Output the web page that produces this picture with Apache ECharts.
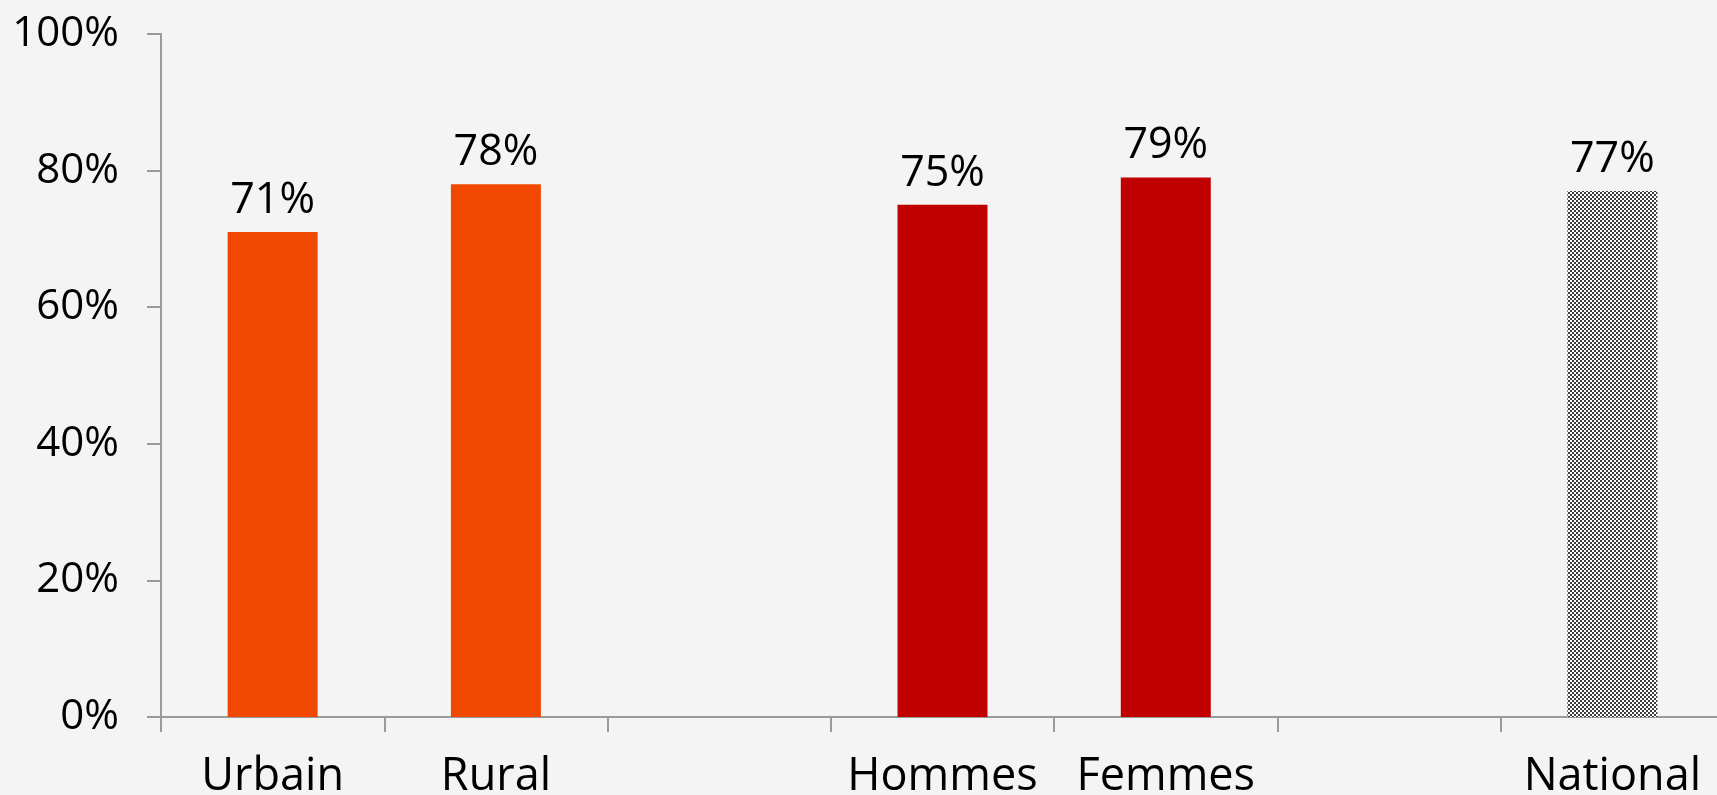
<!DOCTYPE html>
<html>
<head>
<meta charset="utf-8">
<script src="https://cdn.jsdelivr.net/npm/echarts@6/dist/echarts.min.js"></script>
<style>
  html, body { margin: 0; padding: 0; background: #f4f4f4; }
  #chart { width: 1717px; height: 795px; }
</style>
</head>
<body>
<div id="chart"></div>
<script>
var categories = ['Urbain', 'Rural', '', 'Hommes', 'Femmes', '', 'National'];
var values = [71, 78, null, 75, 79, null, 77];
var barColors = ['#f04800', '#f04800', null, '#c00000', '#c00000', null, 'pattern'];
var yTicks = [0, 20, 40, 60, 80, 100];

// petit damier noir / blanc pour la barre "National"
function checkerPattern() {
	var c = document.createElement('canvas');
	c.width = 4;
	c.height = 4;
	var ctx = c.getContext('2d');
	ctx.fillStyle = '#ffffff';
	ctx.fillRect(0, 0, 4, 4);
	ctx.fillStyle = '#3c3c3c';
	ctx.fillRect(0, 0, 2, 2);
	ctx.fillRect(2, 2, 2, 2);
	return c;
}

var pattern = checkerPattern();
var font = "'Open Sans', 'DejaVu Sans', sans-serif";

var seriesData = values.map(function (v, i) {
	var col = barColors[i] === 'pattern' ? { image: pattern, repeat: 'repeat' } : barColors[i];
	return { value: v, itemStyle: { color: col } };
});

var chart = echarts.init(document.getElementById('chart'));
var option = {
	backgroundColor: '#f4f4f4',
	animation: false,
	// la grille deborde un peu a droite de la fenetre
	grid: { left: 161, width: 1563, top: 34, bottom: 78, containLabel: false, outerBoundsMode: 'none' },
	xAxis: {
		type: 'category',
		data: categories,
		axisLine: { lineStyle: { color: '#9a9a9a', width: 2 } },
		axisTick: { show: true, interval: 0, length: 15, lineStyle: { color: '#9a9a9a', width: 2 } },
		axisLabel: {
			interval: 0,
			margin: 38,
			color: '#000',
			fontFamily: font,
			fontSize: 45
		}
	},
	yAxis: {
		type: 'value',
		min: yTicks[0],
		max: yTicks[yTicks.length - 1],
		interval: 20,
		splitLine: { show: false },
		axisLine: { show: true, lineStyle: { color: '#9a9a9a', width: 2 } },
		axisTick: { show: true, length: 14, lineStyle: { color: '#9a9a9a', width: 2 } },
		axisLabel: {
			margin: 42,
			color: '#000',
			fontFamily: font,
			fontSize: 42,
			formatter: function (v) { return v + '%'; }
		}
	},
	series: [
		{
			type: 'bar',
			data: seriesData,
			barWidth: 90,
			label: {
				show: true,
				position: 'top',
				distance: 10,
				color: '#000',
				fontFamily: font,
				fontSize: 43,
				formatter: function (p) { return p.value + '%'; }
			}
		}
	]
};
chart.setOption(option);
</script>
</body>
</html>
